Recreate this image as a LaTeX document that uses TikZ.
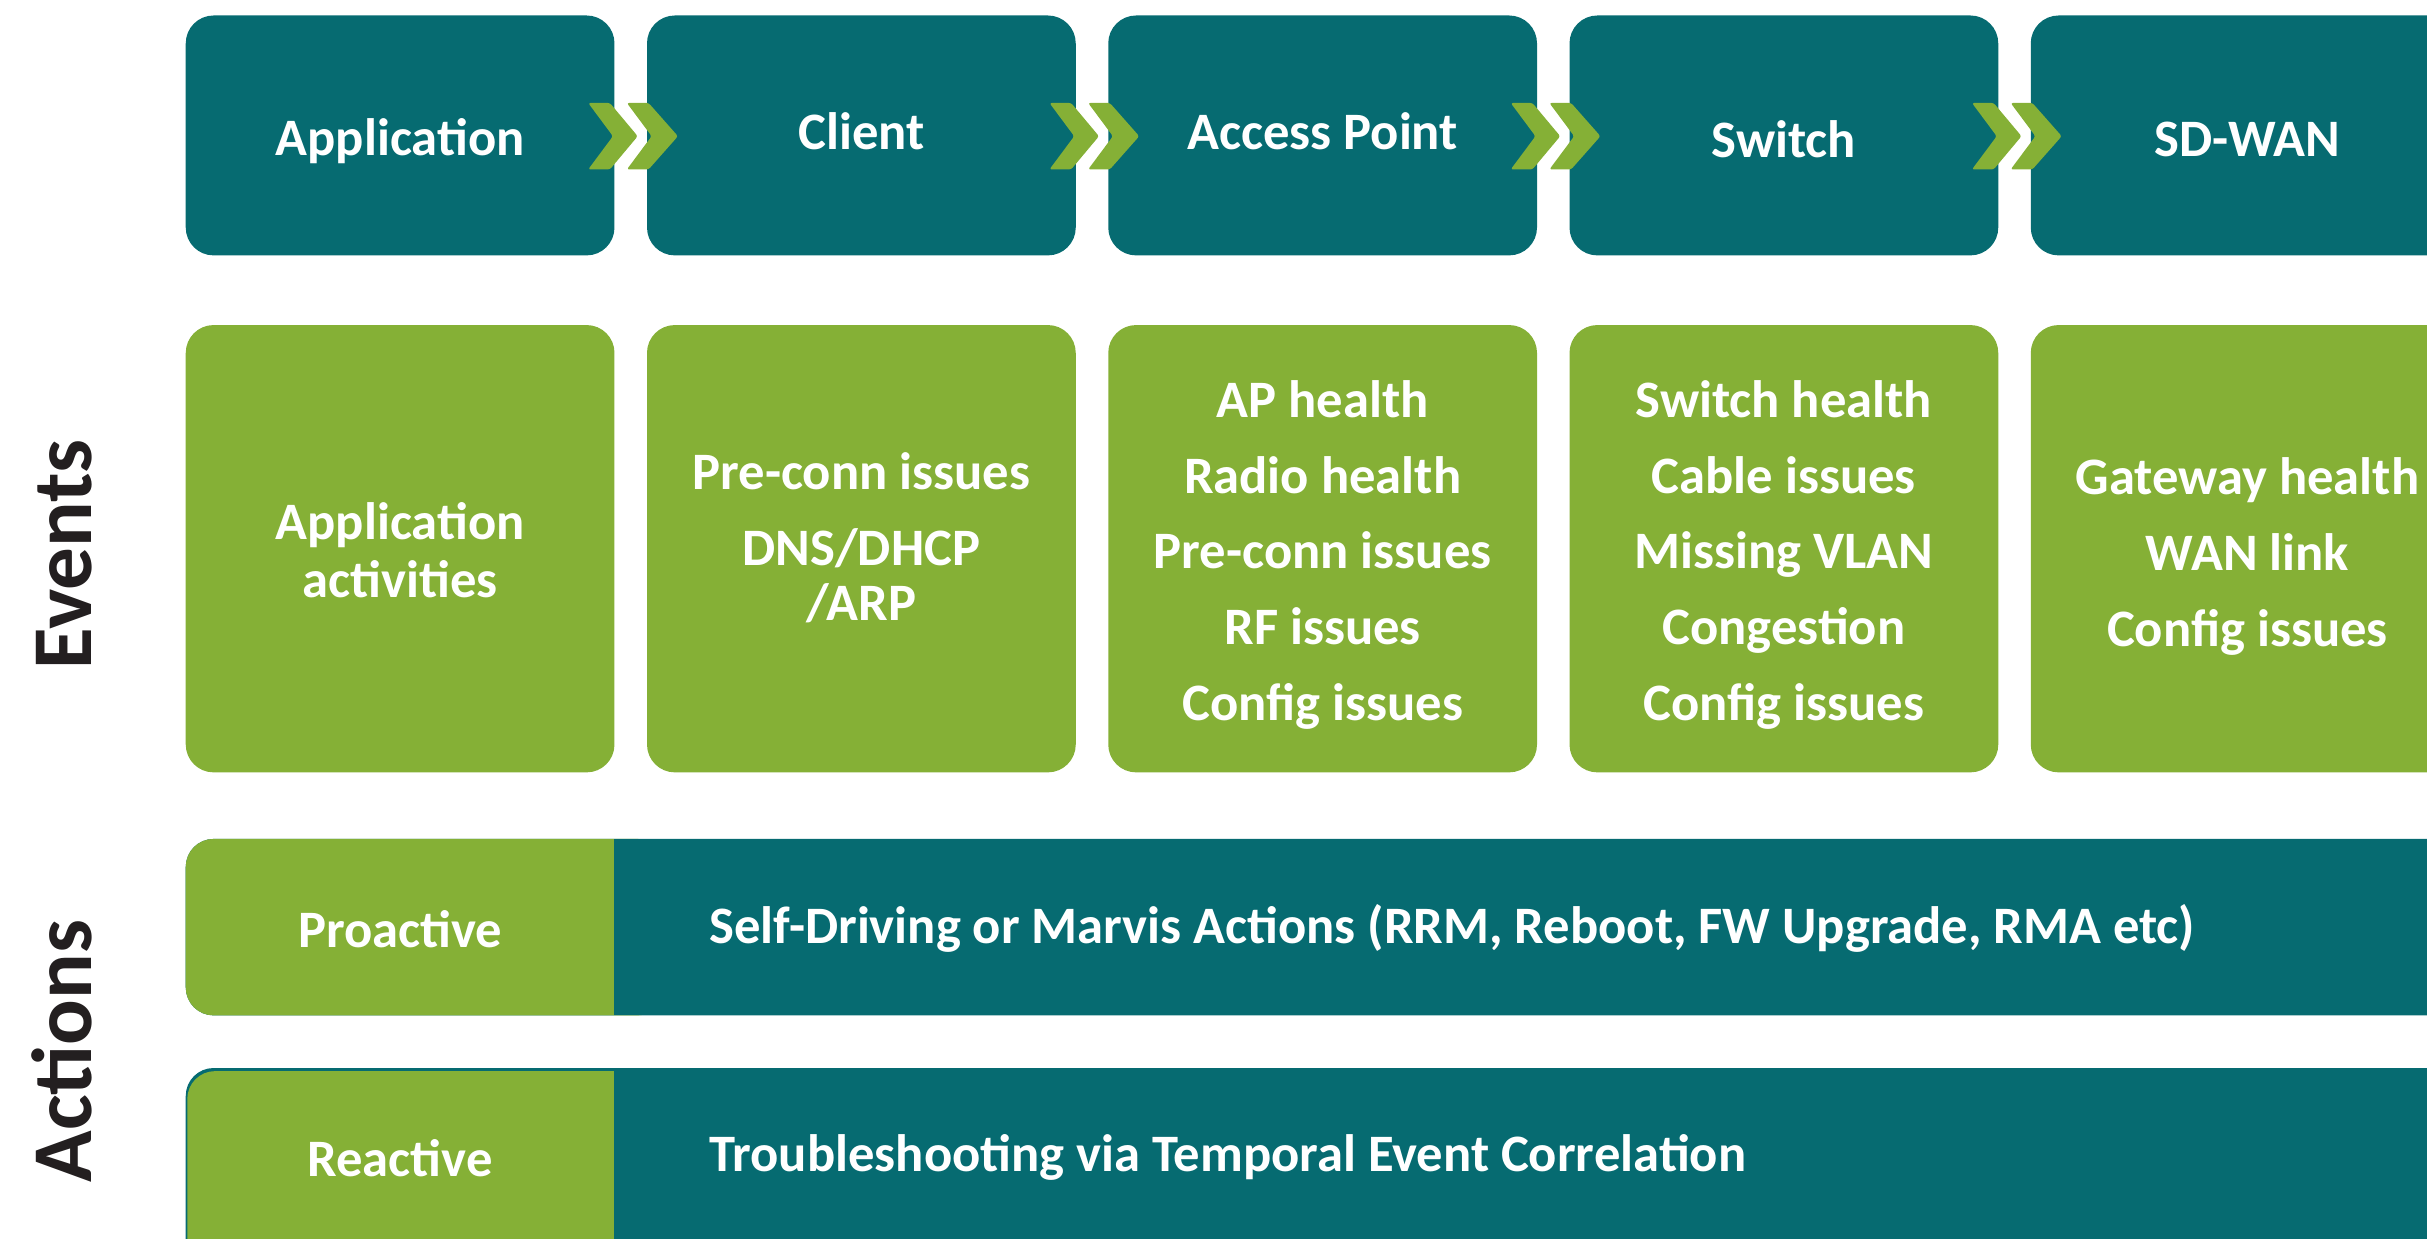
\documentclass[tikz,border=0pt]{standalone}
\usepackage{fontspec}
\setmainfont{Carlito}
\definecolor{tealbox}{HTML}{066B71}
\definecolor{leaf}{HTML}{85B036}
\definecolor{ink}{HTML}{231F20}
\begin{document}
\begin{tikzpicture}[x=1pt,y=-1pt,
  topbox/.style={fill=tealbox, rounded corners=18pt, minimum width=277pt, minimum height=155pt, inner sep=0pt},
  toptext/.style={text=white, inner sep=0pt, font=\bfseries\fontsize{34}{40}\selectfont},
  evbox/.style={fill=leaf, rounded corners=18pt, minimum width=277pt, minimum height=289pt, inner sep=0pt},
  evtext/.style={text=white, align=center, inner sep=0pt, font=\bfseries\fontsize{34}{49}\selectfont},
  sidelabel/.style={rotate=90, anchor=base, text=ink, inner sep=0pt, font=\bfseries\fontsize{55}{60}\selectfont},
  actlabel/.style={text=white, inner sep=0pt, font=\bfseries\fontsize{34}{40}\selectfont},
  chevron/.pic={
    \fill[leaf, rounded corners=1.5pt] (-28,-21.5) -- (-14,-21.5) -- (4,0) -- (-14,21.5) -- (-28,21.5) -- (-12,0) -- cycle;
    \fill[leaf, rounded corners=1.5pt] (-3,-21.5) -- (11,-21.5) -- (30,0) -- (11,21.5) -- (-3,21.5) -- (13,0) -- cycle;
  }
]
\useasboundingbox (0,0) rectangle (1568,800);
\clip (0,0) rectangle (1568,800);

% top row
\node[topbox] (t1) at (258.5,87.5) {};
\node[topbox] (t2) at (556.5,87.5) {};
\node[topbox] (t3) at (854.5,87.5) {};
\node[topbox] (t4) at (1152.5,87.5) {};
\node[topbox] (t5) at (1450.5,87.5) {};
\node[toptext] (tt1) at (258.5,91) {Application};
\node[toptext] (tt2) at (556.5,84.5) {Client};
\node[toptext] (tt3) at (854.5,85) {Access Point};
\node[toptext] (tt4) at (1152.5,90) {Switch};
\node[toptext] (tt5) at (1452,90) {SD-WAN};

% chevrons
\pic at (408,88) {chevron};
\pic at (706,88) {chevron};
\pic at (1004,88) {chevron};
\pic at (1302,88) {chevron};

% events row
\node[evbox] (e1) at (258.5,354.5) {};
\node[evbox] (e2) at (556.5,354.5) {};
\node[evbox] (e3) at (854.5,354.5) {};
\node[evbox] (e4) at (1152.5,354.5) {};
\node[evbox] (e5) at (1450.5,354.5) {};

\node[evtext] (et1) at (258.5,355.5) {Application\\[-12pt]activities};
\node[evtext] (et2) at (556.5,347.5) {Pre-conn issues\\DNS/DHCP\\[-13pt]/ARP};
\node[evtext] (et3) at (854.5,358.5) {AP health\\Radio health\\Pre-conn issues\\RF issues\\Config issues};
\node[evtext] (et4) at (1152.5,358.5) {Switch health\\Cable issues\\Missing VLAN\\Congestion\\Config issues};
\node[evtext] (et5) at (1452,359.5) {Gateway health\\WAN link\\Config issues};

% side labels
\node[sidelabel] (lev) at (59,358) {Events};
\node[sidelabel] (lact) at (59,679) {Actions};

% actions rows
\fill[tealbox, rounded corners=18pt] (120,542) rectangle (1640,656);
\fill[leaf, rounded corners=18pt] (120,542) rectangle (430,656);
\fill[tealbox] (397,542) rectangle (1640,656);

\fill[tealbox, rounded corners=18pt] (120,690) rectangle (1640,820);
\fill[leaf, rounded corners=18pt] (121,692) rectangle (430,820);
\fill[tealbox] (397,690) rectangle (1640,820);

\node[actlabel] (pro) at (258.5,600) {Proactive};
\node[actlabel, anchor=west] (proa) at (458,600) {Self-Driving or Marvis Actions (RRM, Reboot, FW Upgrade, RMA etc)};
\node[actlabel] (rea) at (258.5,748) {Reactive};
\node[actlabel, anchor=west] (reaa) at (458,748) {Troubleshooting via Temporal Event Correlation};
\end{tikzpicture}
\end{document}
